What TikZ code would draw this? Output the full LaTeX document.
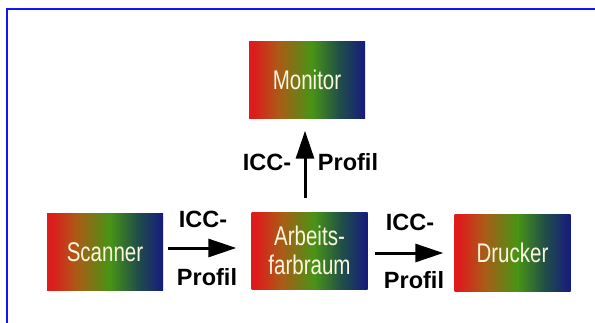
\documentclass[tikz,border=0pt]{standalone}
\usepackage{fontspec}
\setmainfont{Liberation Sans}
\newfontfamily\boxfont[FakeStretch=0.76]{Liberation Sans}
\usetikzlibrary{arrows.meta}
\definecolor{gra}{RGB}{222,28,28}
\definecolor{grb}{RGB}{170,92,22}
\definecolor{grc}{RGB}{72,148,22}
\definecolor{grd}{RGB}{32,78,72}
\definecolor{gre}{RGB}{22,26,128}
\definecolor{boxtext}{RGB}{252,246,222}
\definecolor{framec}{RGB}{20,20,250}
\pgfdeclarehorizontalshading{rgbgrad}{100bp}{color(0bp)=(gra); color(27bp)=(gra); color(38bp)=(grb); color(52bp)=(grc); color(64bp)=(grd); color(75bp)=(gre); color(100bp)=(gre)}
\tikzset{
  gradbox/.style={shade, shading=rgbgrad, minimum width=116pt, minimum height=77pt, inner sep=0pt,
    text=boxtext, font=\boxfont\fontsize{27}{29}\selectfont, align=center},
  lbl/.style={font=\bfseries\fontsize{23.5}{25}\selectfont, inner sep=0pt},
  flow/.style={line width=3pt, -{Triangle[length=28pt,width=18pt]}}
}
\begin{document}
\begin{tikzpicture}[x=1pt,y=-1pt]
\useasboundingbox (0,0) rectangle (595,322);
\clip (0,0) rectangle (595,322);
\draw[framec, line width=2pt] (7,340) -- (7,9) -- (610,9);
\node[gradbox] (monitor) at (307,80) {Monitor};
\node[gradbox] (arbeit) at (309.5,250.5) {Arbeits-\\farbraum};
\node[gradbox] (scanner) at (105,252) {Scanner};
\node[gradbox] (drucker) at (512.5,252.5) {Drucker};
\draw[flow, shorten <=5pt, shorten >=15pt] ([yshift=4pt]scanner.east) -- ([yshift=2.5pt]arbeit.west);
\draw[flow, shorten <=7pt, shorten >=11pt] ([yshift=-2.5pt]arbeit.east) -- ([yshift=-0.5pt]drucker.west);
\draw[flow, shorten <=14pt, shorten >=12pt] ([xshift=-4.5pt]arbeit.north) -- ([xshift=-2pt]monitor.south);
\node[lbl] (l1a) at (203,219) {ICC-};
\node[lbl] (l1b) at (207,277) {Profil};
\node[lbl] (l2a) at (410,222) {ICC-};
\node[lbl] (l2b) at (414,280) {Profil};
\node[lbl] (l3a) at (267,162) {ICC-};
\node[lbl] (l3b) at (348,162) {Profil};
\end{tikzpicture}
\end{document}
